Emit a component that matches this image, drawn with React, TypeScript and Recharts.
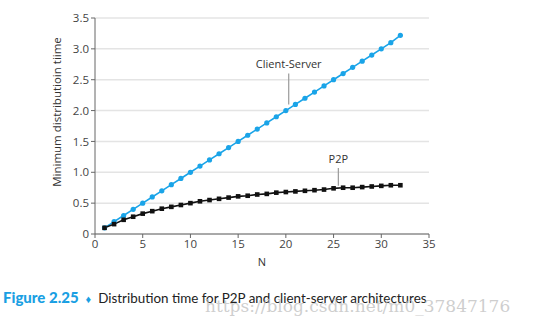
import React from "react";
import {
  LineChart,
  Line,
  XAxis,
  YAxis,
  CartesianGrid,
  ReferenceLine,
  ReferenceDot,
} from "recharts";

const nValues = [
  1, 2, 3, 4, 5, 6, 7, 8, 9, 10, 11, 12, 13, 14, 15, 16, 17, 18, 19, 20, 21,
  22, 23, 24, 25, 26, 27, 28, 29, 30, 31, 32,
];
const clientServer = [
  0.1, 0.2, 0.3, 0.4, 0.5, 0.6, 0.7, 0.8, 0.9, 1.0, 1.1, 1.2, 1.3, 1.4, 1.5,
  1.6, 1.7, 1.8, 1.9, 2.0, 2.1, 2.2, 2.3, 2.4, 2.5, 2.6, 2.7, 2.8, 2.9, 3.0,
  3.1, 3.22,
];
const p2p = [
  0.1, 0.16, 0.23, 0.28, 0.33, 0.37, 0.41, 0.44, 0.47, 0.5, 0.53, 0.55, 0.57,
  0.59, 0.61, 0.62, 0.64, 0.65, 0.67, 0.68, 0.69, 0.7, 0.71, 0.72, 0.74, 0.75,
  0.75, 0.76, 0.77, 0.78, 0.79, 0.79,
];
const xTicks = [0, 5, 10, 15, 20, 25, 30, 35];
const yTicks = [0, 0.5, 1.0, 1.5, 2.0, 2.5, 3.0, 3.5];

const chartData = nValues.map((n, i) => ({
  n,
  cs: clientServer[i],
  p2p: p2p[i],
}));

const font = "'Open Sans', 'DejaVu Sans', sans-serif";
const blue = "#1aa4e8";

// black square markers for the P2P series
const SquareDot = (props: any) => {
  const { cx, cy, index } = props;
  return <rect key={`sq-${index}`} x={cx - 2.3} y={cy - 2.3} width={4.6} height={4.6} fill="#111" />;
};

export default function App() {
  return (
    <div
      style={{
        position: "absolute",
        left: 0,
        top: 0,
        width: 554,
        height: 326,
        background: "#fff",
        fontFamily: font,
        overflow: "hidden",
      }}
    >
      <LineChart
        width={554}
        height={326}
        data={chartData}
        margin={{ top: 18, right: 125, bottom: 62, left: 55 }}
      >
        <CartesianGrid vertical={false} stroke="#e4e4e4" strokeWidth={1.5} />
        <XAxis
          dataKey="n"
          type="number"
          domain={[0, 35]}
          ticks={xTicks}
          height={30}
          stroke="#666"
          tickSize={4}
          tick={{ fontSize: 11.5, fill: "#444", fontFamily: font }}
          label={{ value: "N", position: "insideBottom", offset: -2, fontSize: 11, fill: "#333" }}
        />
        <YAxis
          type="number"
          domain={[0, 3.5]}
          ticks={yTicks}
          width={40}
          stroke="#666"
          tickSize={4}
          tickFormatter={(v: number) => (v === 0 ? "0" : v.toFixed(1))}
          tick={{ fontSize: 11.5, fill: "#444", fontFamily: font }}
          label={{
            value: "Minimum distributioin tiime",
            angle: -90,
            position: "insideLeft",
            offset: 2,
            dy: -14,
            style: { textAnchor: "middle", fontSize: 11.5, fill: "#333" },
          }}
        />
        <ReferenceLine
          segment={[
            { x: 20.3, y: 2.1 },
            { x: 20.3, y: 2.6 },
          ]}
          stroke="#999"
          strokeWidth={1.2}
        />
        <ReferenceDot
          x={20.3}
          y={2.75}
          r={0}
          fill="none"
          stroke="none"
          label={{ value: "Client-Server", position: "center", fontSize: 11, fill: "#333" }}
        />
        <ReferenceLine
          segment={[
            { x: 25.5, y: 0.78 },
            { x: 25.5, y: 1.07 },
          ]}
          stroke="#999"
          strokeWidth={1.2}
        />
        <ReferenceDot
          x={25.5}
          y={1.22}
          r={0}
          fill="none"
          stroke="none"
          label={{ value: "P2P", position: "center", fontSize: 11, fill: "#333" }}
        />
        <Line
          type="linear"
          dataKey="cs"
          stroke={blue}
          strokeWidth={1.6}
          dot={{ r: 2.6, fill: blue, stroke: blue, strokeWidth: 0 }}
          isAnimationActive={false}
        />
        <Line
          type="linear"
          dataKey="p2p"
          stroke="#111"
          strokeWidth={1.6}
          dot={SquareDot}
          isAnimationActive={false}
        />
      </LineChart>
      <div
        style={{
          position: "absolute",
          left: 3,
          top: 288,
          whiteSpace: "nowrap",
          fontFamily: "Lato, 'Open Sans', sans-serif",
          fontSize: 13.4,
          color: "#222",
        }}
      >
        <span style={{ color: "#1a9fe3", fontWeight: 900, fontSize: 15 }}>Figure 2.25</span>
        <span style={{ color: "#1a9fe3", fontSize: 11, margin: "0 7px" }}>♦</span>
        Distribution time for P2P and client-server architectures
      </div>
      <div
        style={{
          position: "absolute",
          left: 205,
          top: 296,
          whiteSpace: "nowrap",
          fontFamily: "'DejaVu Serif', 'Liberation Serif', serif",
          fontSize: 17,
          color: "rgba(190,190,190,0.75)",
        }}
      >
        https://blog.csdn.net/m0_37847176
      </div>
    </div>
  );
}
